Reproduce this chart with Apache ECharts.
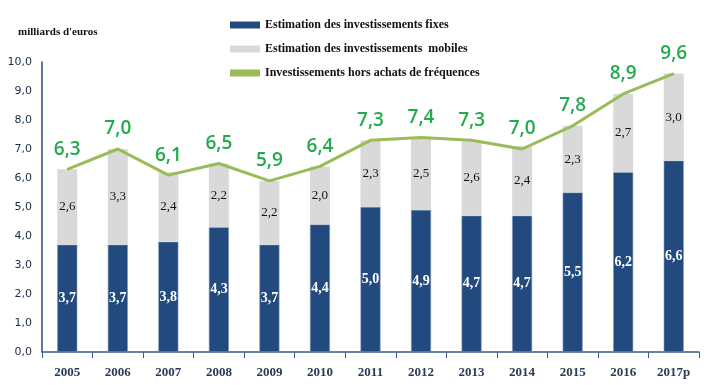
<!DOCTYPE html>
<html><head><meta charset="utf-8">
<script src="https://cdn.jsdelivr.net/npm/echarts@6/dist/echarts.min.js"></script>
<style>html,body{margin:0;padding:0;background:#fff}#c{width:713px;height:385px}</style>
</head><body><div id="c"></div>
<script>
const categories = ['2005','2006','2007','2008','2009','2010','2011','2012','2013','2014','2015','2016','2017p'];
const fixes = [3.7,3.7,3.8,4.3,3.7,4.4,5.0,4.9,4.7,4.7,5.5,6.2,6.6];
const mobiles = [2.6,3.3,2.4,2.2,2.2,2.0,2.3,2.5,2.6,2.4,2.3,2.7,3.0];
const totals = [6.3,7.0,6.1,6.5,5.9,6.4,7.3,7.4,7.3,7.0,7.8,8.9,9.6];
const yTicks = [0,1,2,3,4,5,6,7,8,9,10];

const fmt = v => v.toFixed(1).replace('.', ',');
const serif = 'Liberation Serif';
const chart = echarts.init(document.getElementById('c'));
chart.setOption({
  animation: false,
  grid: {left: 42, right: 14, top: 62, bottom: 33},
  legend: {
    left: 225, top: 14, orient: 'vertical', itemGap: 12, itemWidth: 30, itemHeight: 7,
    itemStyle: {borderWidth: 0},
    textStyle: {fontFamily: serif, fontWeight: 'bold', fontSize: 12, color: '#111'},
    data: [
      {name: 'Estimation des investissements fixes', icon: 'rect'},
      {name: 'Estimation des investissements  mobiles', icon: 'rect'},
      {name: 'Investissements hors achats de fréquences', icon: 'rect', itemStyle: {color: '#9bbb59'}}
    ]
  },
  graphic: [{type: 'text', left: 18, top: 27, style: {text: "milliards d'euros", font: 'bold 11px "Liberation Serif"', fill: '#111'}}],
  xAxis: {
    type: 'category', data: categories,
    axisLine: {lineStyle: {color: '#3a5a8c', width: 1.5}},
    axisTick: {show: true, length: 6, lineStyle: {color: '#3a5a8c'}},
    axisLabel: {fontFamily: serif, fontWeight: 'bold', fontSize: 13, color: '#2b3a55', margin: 14}
  },
  yAxis: {
    type: 'value', min: 0, max: 10, interval: 1,
    axisLine: {show: true, lineStyle: {color: '#2a4a7c', width: 1.5}},
    axisTick: {show: false},
    splitLine: {show: false},
    axisLabel: {fontFamily: 'DejaVu Sans', fontSize: 11, color: '#1c2a44', margin: 10, formatter: v => fmt(v)}
  },
  series: [
    {name: 'Estimation des investissements fixes', type: 'bar', stack: 's', barWidth: 20, data: fixes,
     itemStyle: {color: '#224a7e', borderColor: '#7d93b6', borderWidth: 0.6},
     label: {show: true, position: 'inside', formatter: p => fmt(p.value), color: '#fff', fontFamily: serif, fontWeight: 'bold', fontSize: 14}},
    {name: 'Estimation des investissements  mobiles', type: 'bar', stack: 's', barWidth: 20, data: mobiles,
     itemStyle: {color: '#d9d9d9'},
     label: {show: true, position: 'inside', formatter: p => fmt(p.value), color: '#111', fontFamily: serif, fontSize: 13}},
    {name: 'Investissements hors achats de fréquences', type: 'line', data: totals,
     symbol: 'circle', symbolSize: 1, showSymbol: true,
     lineStyle: {color: '#9bbb59', width: 3}, itemStyle: {color: '#9bbb59'},
     label: {show: true, position: 'top', distance: 10, formatter: p => fmt(p.value), color: '#22ab4e', fontFamily: 'Open Sans', fontWeight: 600, fontSize: 19}}
  ]
});
</script></body></html>
